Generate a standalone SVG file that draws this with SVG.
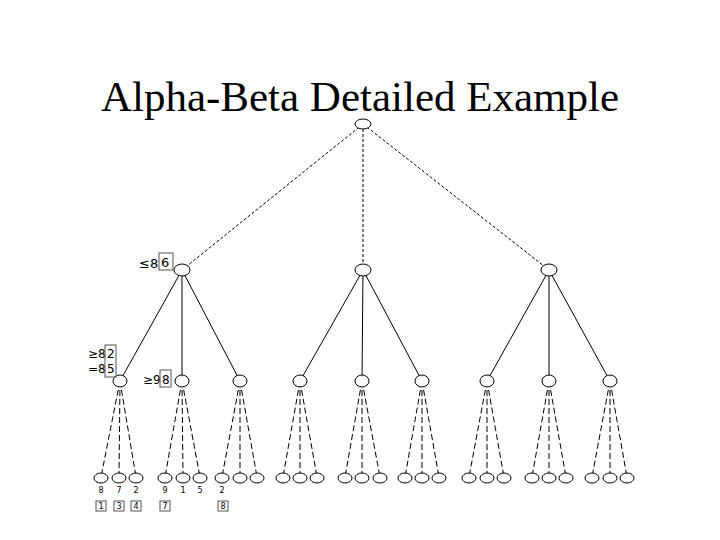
<svg xmlns="http://www.w3.org/2000/svg" width="720" height="540" viewBox="0 0 720 540">
<style>
.n{fill:#fff;stroke:#000;stroke-width:1}
.e{stroke:#000;stroke-width:1;fill:none}
.d{stroke:#000;stroke-width:1;stroke-dasharray:6,3;fill:none}
.f{stroke:#000;stroke-width:1;stroke-dasharray:3,2;fill:none}
.t{font-family:"DejaVu Sans",sans-serif;fill:#000}
.b{fill:none;stroke:#555;stroke-width:1}
</style>
<rect width="720" height="540" fill="#fff"/>
<text x="360" y="111" text-anchor="middle" font-family="Liberation Serif,serif" font-size="43">Alpha-Beta Detailed Example</text>
<g id="connectors">
<path class="f" d="M363,124L182,270M363,124L363,270M363,124L549,270"/>
<path class="e" d="M182,270L120,381M182,270L182,381M182,270L240,381M363,270L300,381M363,270L362,381M363,270L422,381M549,270L487,381M549,270L549,381M549,270L610,381"/>
<path class="d" d="M120,381L101,477M120,381L119,477M120,381L136,477M182,381L165,477M182,381L183,477M182,381L200,477M240,381L222,477M240,381L240,477M240,381L257,477M300,381L283,477M300,381L300,477M300,381L317,477M362,381L345,477M362,381L362,477M362,381L380,477M422,381L405,477M422,381L422,477M422,381L439,477M487,381L469,477M487,381L487,477M487,381L504,477M549,381L532,477M549,381L549,477M549,381L566,477M610,381L592,477M610,381L610,477M610,381L627,477"/>
</g>
<g id="root"><ellipse class="n" cx="363" cy="124" rx="8" ry="5"/></g>
<g id="l1a"><ellipse class="n" cx="182" cy="270" rx="8" ry="6"/>
<text class="t" x="139" y="268" font-size="13">≤8</text><rect class="b" x="159" y="253" width="14" height="17"/><text class="t" x="161" y="267" font-size="13">6</text></g>
<g id="l1b"><ellipse class="n" cx="363" cy="270" rx="8" ry="6"/></g>
<g id="l1c"><ellipse class="n" cx="549" cy="270" rx="8" ry="6"/></g>
<g id="l2">
<ellipse class="n" cx="120" cy="381" rx="7" ry="6"/>
<ellipse class="n" cx="182" cy="381" rx="7" ry="6"/>
<ellipse class="n" cx="240" cy="381" rx="7" ry="6"/>
<ellipse class="n" cx="300" cy="381" rx="7" ry="6"/>
<ellipse class="n" cx="362" cy="381" rx="7" ry="6"/>
<ellipse class="n" cx="422" cy="381" rx="7" ry="6"/>
<ellipse class="n" cx="487" cy="381" rx="7" ry="6"/>
<ellipse class="n" cx="549" cy="381" rx="7" ry="6"/>
<ellipse class="n" cx="610" cy="381" rx="7" ry="6"/>
</g>
<g id="l2labels">
<text class="t" x="88" y="358" font-size="12">≥8</text><text class="t" x="88" y="373" font-size="12">=8</text>
<rect class="b" x="105" y="345" width="11" height="32"/><text class="t" x="107" y="358" font-size="12">2</text><text class="t" x="107" y="373" font-size="12">5</text>
<text class="t" x="143" y="384" font-size="12">≥9</text><rect class="b" x="160" y="370" width="11" height="17"/><text class="t" x="162" y="384" font-size="12">8</text>
</g>
<g id="leaves">
<ellipse class="n" cx="101" cy="478" rx="7" ry="5"/><ellipse class="n" cx="119" cy="478" rx="7" ry="5"/><ellipse class="n" cx="136" cy="478" rx="7" ry="5"/>
<ellipse class="n" cx="165" cy="478" rx="7" ry="5"/><ellipse class="n" cx="183" cy="478" rx="7" ry="5"/><ellipse class="n" cx="200" cy="478" rx="7" ry="5"/>
<ellipse class="n" cx="222" cy="478" rx="7" ry="5"/><ellipse class="n" cx="240" cy="478" rx="7" ry="5"/><ellipse class="n" cx="257" cy="478" rx="7" ry="5"/>
<ellipse class="n" cx="283" cy="478" rx="7" ry="5"/><ellipse class="n" cx="300" cy="478" rx="7" ry="5"/><ellipse class="n" cx="317" cy="478" rx="7" ry="5"/>
<ellipse class="n" cx="345" cy="478" rx="7" ry="5"/><ellipse class="n" cx="362" cy="478" rx="7" ry="5"/><ellipse class="n" cx="380" cy="478" rx="7" ry="5"/>
<ellipse class="n" cx="405" cy="478" rx="7" ry="5"/><ellipse class="n" cx="422" cy="478" rx="7" ry="5"/><ellipse class="n" cx="439" cy="478" rx="7" ry="5"/>
<ellipse class="n" cx="469" cy="478" rx="7" ry="5"/><ellipse class="n" cx="487" cy="478" rx="7" ry="5"/><ellipse class="n" cx="504" cy="478" rx="7" ry="5"/>
<ellipse class="n" cx="532" cy="478" rx="7" ry="5"/><ellipse class="n" cx="549" cy="478" rx="7" ry="5"/><ellipse class="n" cx="566" cy="478" rx="7" ry="5"/>
<ellipse class="n" cx="592" cy="478" rx="7" ry="5"/><ellipse class="n" cx="610" cy="478" rx="7" ry="5"/><ellipse class="n" cx="627" cy="478" rx="7" ry="5"/>
</g>
<g id="leafvalues" font-size="8" text-anchor="middle">
<text class="t" x="101" y="493">8</text><text class="t" x="119" y="493">7</text><text class="t" x="136" y="493">2</text>
<text class="t" x="165" y="493">9</text><text class="t" x="183" y="493">1</text><text class="t" x="200" y="493">5</text>
<text class="t" x="222" y="493">2</text>
<rect class="b" x="96" y="501" width="10" height="10"/><text class="t" x="101" y="509">1</text>
<rect class="b" x="114" y="501" width="10" height="10"/><text class="t" x="119" y="509">3</text>
<rect class="b" x="131" y="501" width="10" height="10"/><text class="t" x="136" y="509">4</text>
<rect class="b" x="160" y="501" width="10" height="10"/><text class="t" x="165" y="509">7</text>
<rect class="b" x="218" y="501" width="10" height="10"/><text class="t" x="223" y="509">8</text>
</g>
</svg>
